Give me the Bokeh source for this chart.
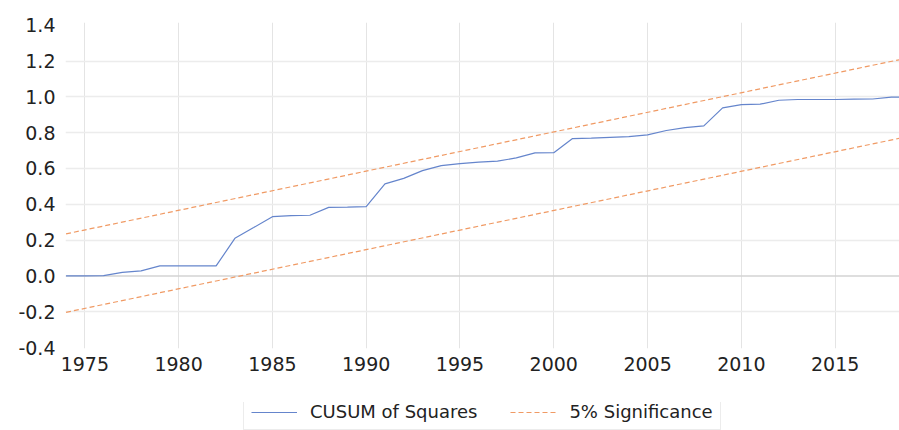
from bokeh.plotting import figure
from bokeh.layouts import column
from bokeh.models import Range1d, FixedTicker, Legend, LegendItem, Span, ColumnDataSource
from bokeh.embed import file_html
from bokeh.resources import INLINE

# ---- data ----
years = list(range(1974, 2020))
cusum_sq = [0.000, 0.000, 0.002, 0.020, 0.028, 0.056, 0.056, 0.056, 0.056, 0.210,
            0.270, 0.331, 0.337, 0.339, 0.383, 0.384, 0.387, 0.514, 0.545, 0.588,
            0.616, 0.627, 0.635, 0.641, 0.659, 0.687, 0.688, 0.767, 0.769, 0.774,
            0.778, 0.788, 0.812, 0.828, 0.838, 0.938, 0.957, 0.959, 0.981, 0.985,
            0.985, 0.985, 0.987, 0.988, 0.998, 1.000]
bound_years = [1974, 2019]
upper_5pct = [0.235, 1.220]
lower_5pct = [-0.203, 0.781]

x_ticks = [1975, 1980, 1985, 1990, 1995, 2000, 2005, 2010, 2015]
y_ticks = [-0.4, -0.2, 0.0, 0.2, 0.4, 0.6, 0.8, 1.0, 1.2, 1.4]
y_tick_labels = ["-0.4", "-0.2", "0.0", "0.2", "0.4", "0.6", "0.8", "1.0", "1.2", "1.4"]
y_grid_ticks = [-0.2, 0.2, 0.4, 0.6, 0.8, 1.0, 1.2]

series_names = ["CUSUM of Squares", "5% Significance"]

FONT = "DejaVu Sans"
TEXT_COLOR = "#222222"
BLUE = "#6585CC"
ORANGE = "#F09A64"

src = ColumnDataSource(dict(year=years, cusum=cusum_sq))
bsrc = ColumnDataSource(dict(year=bound_years, upper=upper_5pct, lower=lower_5pct))

# ---- main chart ----
p = figure(width=899, height=402, output_backend="svg", toolbar_location=None,
           x_range=Range1d(1973.97, 2018.43), y_range=Range1d(-0.405, 1.415),
           min_border_left=65, min_border_right=0, min_border_top=22, min_border_bottom=54)
p.outline_line_color = None
p.background_fill_color = "white"
p.border_fill_color = "white"

for ax in (p.xaxis[0], p.yaxis[0]):
    ax.axis_line_color = None
    ax.major_tick_line_color = None
    ax.minor_tick_line_color = None
    ax.major_tick_out = 0
    ax.major_tick_in = 0
    ax.major_label_text_font = FONT
    ax.major_label_text_font_size = "19px"
    ax.major_label_text_color = TEXT_COLOR

p.xaxis.ticker = FixedTicker(ticks=x_ticks)
p.xaxis.major_label_standoff = 8
p.yaxis.ticker = FixedTicker(ticks=y_ticks)
p.yaxis.major_label_overrides = {t: l for t, l in zip(y_ticks, y_tick_labels)}
p.yaxis.major_label_standoff = 10

p.xgrid.ticker = FixedTicker(ticks=x_ticks)
p.xgrid.grid_line_color = "#e4e4e4"
p.xgrid.grid_line_width = 1
p.ygrid.ticker = FixedTicker(ticks=y_grid_ticks)
p.ygrid.grid_line_color = "#ececec"
p.ygrid.grid_line_width = 1.5
p.add_layout(Span(location=0.0, dimension="width", line_color="#d3d3d3", line_width=1.5,
                  level="underlay"))

p.line("year", "cusum", source=src, line_color=BLUE, line_width=1.2)
p.line("year", "upper", source=bsrc, line_color=ORANGE, line_width=1.2, line_dash="5 3")
p.line("year", "lower", source=bsrc, line_color=ORANGE, line_width=1.2, line_dash="5 3")

# ---- legend strip below the chart (its ranges keep the series out of view) ----
lf = figure(width=899, height=28, output_backend="svg", toolbar_location=None,
            x_range=Range1d(0, 1), y_range=Range1d(0, 1),
            x_axis_type=None, y_axis_type=None,
            min_border_left=0, min_border_right=0, min_border_top=0, min_border_bottom=0)
lf.outline_line_color = None
lf.xgrid.visible = False
lf.ygrid.visible = False
lf.border_fill_color = "white"
lf.background_fill_color = "white"
k1 = lf.line("year", "cusum", source=src, line_color=BLUE, line_width=1.2)
k2 = lf.line("year", "upper", source=bsrc, line_color=ORANGE, line_width=1.2, line_dash="5 3")

legend = Legend(items=[LegendItem(label=series_names[0], renderers=[k1]),
                       LegendItem(label=series_names[1], renderers=[k2])],
                orientation="horizontal", location=(178, 0),
                border_line_color="#d9d9d9", border_line_width=1,
                background_fill_color="white", background_fill_alpha=1,
                padding=7, margin=0, spacing=33,
                glyph_width=46, glyph_height=14, label_height=14, label_standoff=13,
                label_text_font=FONT, label_text_font_size="18px",
                label_text_color=TEXT_COLOR, label_text_baseline="middle")
lf.add_layout(legend, "center")

layout = column(p, lf, spacing=0)
open("out.html", "w").write(file_html(layout, INLINE))
